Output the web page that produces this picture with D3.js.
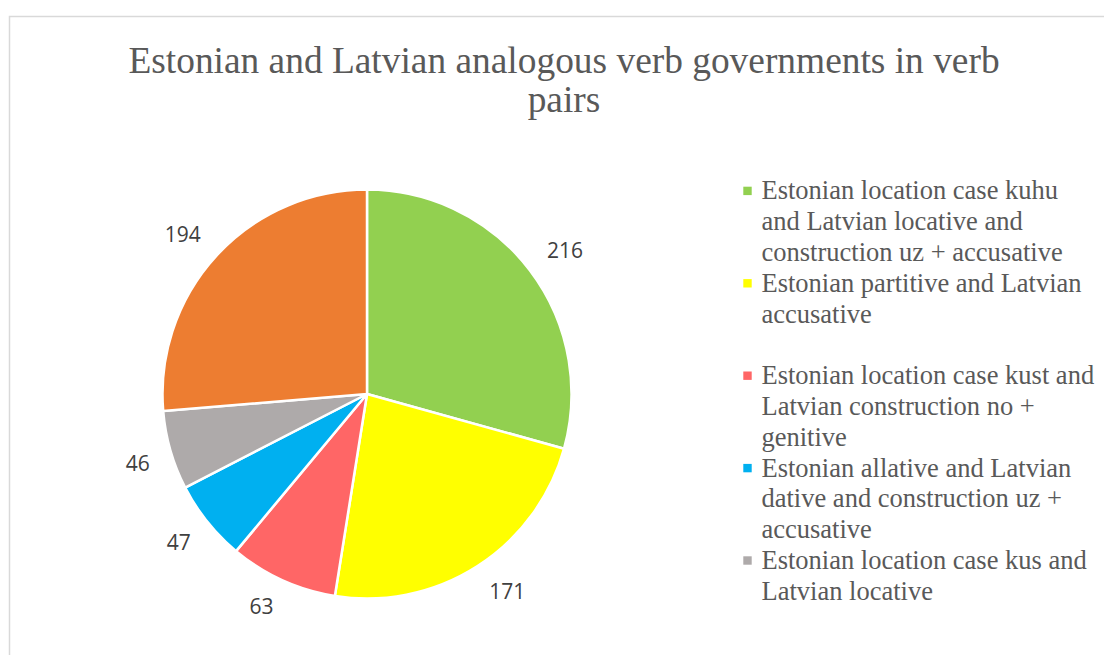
<!DOCTYPE html>
<html>
<head>
<meta charset="utf-8">
<script src="https://cdn.jsdelivr.net/npm/d3@7"></script>
<style>
  html, body { margin: 0; padding: 0; background: #fff; }
  svg { display: block; }
</style>
</head>
<body>
<svg id="chart" width="1104" height="655"></svg>
<script>
// Verb pair counts by government type
const categories = [
  "Estonian location case kuhu and Latvian locative and construction uz + accusative",
  "Estonian partitive and Latvian accusative",
  "Estonian location case kust and Latvian construction no + genitive",
  "Estonian allative and Latvian dative and construction uz + accusative",
  "Estonian location case kus and Latvian locative",
  "Other"
];
const values = [216, 171, 63, 47, 46, 194];
const colors = ["#92d050", "#ffff00", "#ff6666", "#00b0f0", "#aeaaaa", "#ed7d31"];

// Legend text, already broken into lines (empty string = blank line)
const legendLines = [
  ["Estonian location case kuhu", "and Latvian locative and", "construction uz + accusative"],
  ["Estonian partitive and Latvian", "accusative", ""],
  ["Estonian location case kust and", "Latvian construction no +", "genitive"],
  ["Estonian allative and Latvian", "dative and construction uz +", "accusative"],
  ["Estonian location case kus and", "Latvian locative"]
];
const titleLines = ["Estonian and Latvian analogous verb governments in verb", "pairs"];

const svg = d3.select("#chart");

// chart frame
svg.append("rect")
  .attr("x", 9.5).attr("y", 16.5)
  .attr("width", 1200).attr("height", 800)
  .attr("fill", "none")
  .attr("stroke", "#d9d9d9")
  .attr("stroke-width", 1.5);

// title
const title = svg.append("text")
  .attr("text-anchor", "middle")
  .attr("font-family", "'Liberation Serif', 'Times New Roman', serif")
  .attr("font-size", 37.4)
  .attr("fill", "#595959");
titleLines.forEach((t, i) => {
  title.append("tspan").attr("x", 564).attr("y", 73 + i * 39).text(t);
});

// pie
const cx = 367, cy = 394, r = 204.5;
const pie = d3.pie().sort(null).value(d => d)(values);
const arc = d3.arc().innerRadius(0).outerRadius(r);

const g = svg.append("g").attr("transform", `translate(${cx},${cy})`);
g.selectAll("path.slice")
  .data(pie)
  .join("path")
  .attr("class", "slice")
  .attr("d", arc)
  .attr("fill", (d, i) => colors[i])
  .attr("stroke", "#fff")
  .attr("stroke-width", 2.5)
  .attr("stroke-linejoin", "round");

// value labels sit just outside the rim; the label box is pushed outward
// so its inner corner faces the slice
const labelR = 226, halfH = 7;
g.selectAll("text.val")
  .data(pie)
  .join("text")
  .attr("class", "val")
  .attr("text-anchor", "middle")
  .attr("dy", "0.36em")
  .attr("font-family", "'Open Sans', 'Noto Sans', sans-serif")
  .attr("font-size", 21)
  .attr("fill", "#404040")
  .text(d => d.data)
  .each(function (d) {
    const w = this.getBBox().width;
    const a = (d.startAngle + d.endAngle) / 2;
    const s = Math.sin(a), c = Math.cos(a);
    const x = labelR * s + Math.sign(s) * w / 2;
    const y = -labelR * c - Math.sign(c) * halfH;
    d3.select(this).attr("transform", `translate(${x},${y})`);
  });

// legend
const lineH = 30.8;
const legend = svg.append("g")
  .attr("font-family", "'Liberation Serif', 'Times New Roman', serif")
  .attr("font-size", 26.5)
  .attr("fill", "#595959");
let row = 0;
legendLines.forEach((lines, i) => {
  const y0 = 199.3 + row * lineH;
  legend.append("rect")
    .attr("x", 743.3).attr("y", y0 - 12.6)
    .attr("width", 8.4).attr("height", 8.4)
    .attr("fill", colors[i]);
  lines.forEach((t, j) => {
    legend.append("text")
      .attr("x", 761.5).attr("y", y0 + j * lineH)
      .text(t);
  });
  row += lines.length;
});
</script>
</body>
</html>
